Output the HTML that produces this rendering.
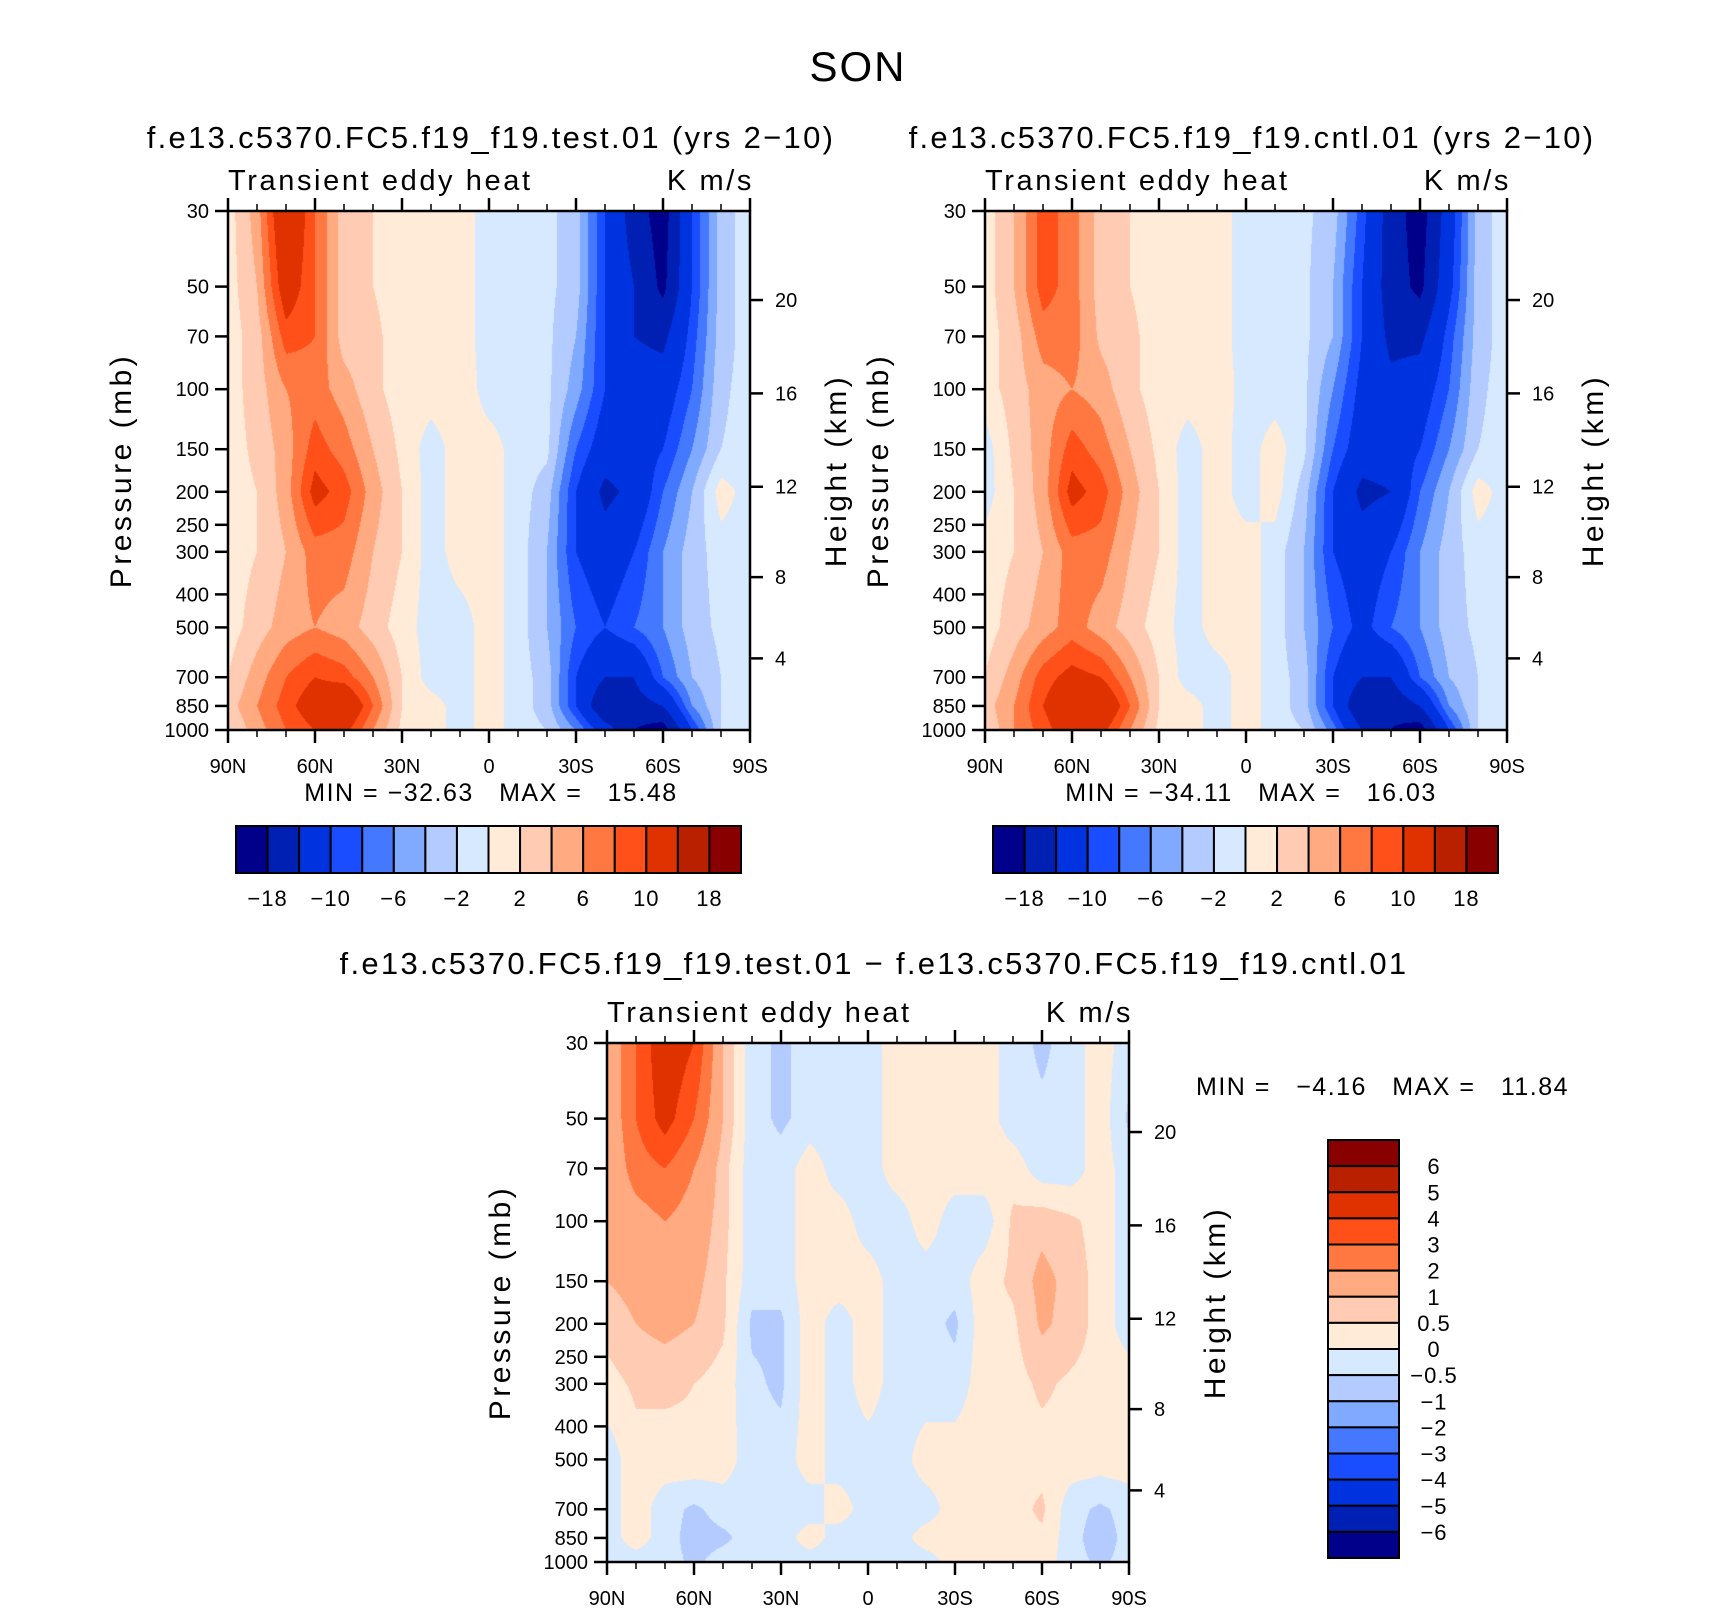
<!DOCTYPE html>
<html><head><meta charset="utf-8">
<style>
html,body{margin:0;padding:0;background:#fff;}
#root{position:relative;width:1710px;height:1611px;overflow:hidden;font-family:"Liberation Sans","DejaVu Sans",sans-serif;}
canvas{position:absolute;}
svg{position:absolute;left:0;top:0;}
text{font-family:"Liberation Sans","DejaVu Sans",sans-serif;fill:#000;white-space:pre;}
</style></head>
<body>
<div id="root">
<canvas id="c1"></canvas>
<canvas id="c2"></canvas>
<canvas id="c3"></canvas>
<svg id="s" width="1710" height="1611"></svg>
</div>
<script>
// ---- data ----
const lats = [90,80,70,60,50,40,30,20,10,0,-10,-20,-30,-40,-50,-60,-70,-80,-90];
const levels = [30,50,70,100,150,200,300,500,700,850,1000];
const testField = [
[1,5,14,8,3,2,1,1,1,-1,-1,-1.5,-3,-10,-16,-20,-10,-3,-1],
[1,4,12,8,3,2,1,1,1,-1,-1,-1.5,-3,-10,-14,-19,-10,-3,-1],
[1,3,9,8,3,2.5,1,1,1,-1,-1,-1.5,-4,-10,-14,-15,-9,-3,-1],
[1,3,6,7,5,2.5,1,1,1.5,-1,-1,-1.5,-5,-10,-12,-12,-8,-2.5,-1],
[1,2.5,5,9,7,4,1.5,-1,1,1,-1,-1.5,-8,-12,-12,-10,-6,-2,-1],
[1,2,5,11,9,5,2,-1,1,1,-1,-3,-10,-15,-13,-8,-4,1,-1],
[1,2,4,7,7,4,2,-1,1,1,-1,-4,-10,-12,-10,-6,-3,-1,-1],
[1,3,5,6,5,3,1,-1,-1,1,-1,-4,-8,-10,-8,-6,-3,-1.5,-1],
[2,5,8,10,9,6,2,-1,-1,1,-1,-3,-10,-14,-14,-8,-4,-2,-1],
[3,6,9,12,14,8,2,1,-1,1,-1,-3,-10,-18,-16,-14,-6,-2,-1],
[2,5,8,10,11,6,1.5,1,-1,1,-1,-2,-6,-12,-18,-20,-10,-2,-1]];
const cntlField = [
[1,4,9,7,3,2,1,1,1,-1,-1,-1.5,-3,-9,-16,-20,-12,-3,-1],
[1,4,9,7,3,2,1,1,1,-1,-1,-1.5,-4,-10,-16,-19,-11,-3,-1],
[1,3,7,7,3.5,2.5,1,1,1,-1,-1,-1.5,-4,-10,-15,-15,-9,-3,-1],
[1,3,5,6,5,2.5,1,1,1.5,-1,-1,-1.5,-6,-11,-13,-12,-8,-2.5,-1],
[-1,2.5,5,9,7,4,1.5,-1,1,-1,1,-1.5,-8,-12,-12,-10,-6,-2,-1],
[-1,2,5,11,9,5,2,-1,1,-1,1,-3,-10,-15,-14,-8,-4,1,-1],
[1,2,4,7,7,4,2,-1,1,1,-1,-4,-10,-12,-10,-6,-3,-1,-1],
[1,3,5,7,5,3,1,-1,1,1,-1,-4,-8,-11,-8,-6,-3,-1.5,-1],
[2,5,9,11,10,6,2,-1,-1,1,-1,-3,-10,-14,-14,-8,-4,-2,-1],
[3,6,10,13,14,8,2,1,-1,1,-1,-3,-10,-18,-17,-14,-6,-2,-1],
[2,6,9,12,11,6,1.5,1,-1,1,-1,-2,-7,-14,-18,-20,-10,-2,-1]];
const diffField = [
[1,3,5,4,1,-0.3,-0.6,-0.3,-0.3,-0.3,0.3,0.3,0.3,0.3,-0.3,-0.6,-0.3,0.3,-0.3],
[1,3,4.5,3,1,-0.3,-0.6,-0.3,-0.3,-0.3,0.3,0.3,0.3,0.3,-0.3,-0.4,-0.3,0.3,-0.6],
[1,2.5,3,2,0.7,-0.3,-0.3,0.3,-0.3,-0.3,0.3,0.3,0.3,0.3,0.3,-0.3,-0.3,0.3,-0.3],
[1,1.5,2,1.5,0.7,-0.3,-0.3,0.3,0.3,-0.3,-0.3,0.3,-0.3,-0.3,0.6,0.8,0.6,0.3,-0.3],
[1,1.2,1.5,1.2,0.6,-0.3,-0.3,0.3,0.3,0.3,-0.3,-0.3,-0.3,0.3,0.6,1.2,0.8,0.3,-0.3],
[0.7,1,1.2,1,0.6,-0.6,-0.6,0.3,-0.3,0.3,-0.3,-0.3,-0.6,0.3,0.4,1.1,0.8,0.3,-0.3],
[0.3,0.6,0.6,0.5,0.3,-0.4,-0.6,0.3,-0.3,0.3,-0.3,-0.3,-0.3,0.3,0.3,0.6,0.4,0.3,0.3],
[-0.3,0.3,0.3,0.4,0.3,-0.3,-0.3,0.3,-0.3,-0.3,-0.3,0.3,0.3,0.3,0.3,0.3,0.3,0.3,0.3],
[-0.3,0.3,-0.3,-0.6,-0.3,-0.3,-0.3,-0.3,0.3,-0.3,-0.3,-0.3,0.3,0.3,0.3,0.6,-0.3,-0.6,-0.3],
[-0.3,0.3,-0.3,-0.7,-0.6,-0.3,-0.3,0.3,-0.3,-0.3,-0.3,0.3,0.3,0.3,0.3,0.4,-0.3,-0.8,-0.3],
[-0.3,-0.3,-0.3,-0.6,-0.3,-0.3,-0.3,-0.3,-0.3,-0.3,-0.3,-0.3,0.3,0.3,0.3,0.3,-0.3,-0.6,-0.3]];
const mainLevels = [-18,-14,-10,-8,-6,-4,-2,0,2,4,6,8,10,14,18];
const diffLevels = [-6,-5,-4,-3,-2,-1,-0.5,0,0.5,1,2,3,4,5,6];
const palette = ["#00008a","#0020b4","#0033e0","#1a4dff","#4478ff","#80aaff","#b3cbff","#d6e9ff","#ffebd8","#ffcbb2","#ffaa80","#ff7842","#ff5019","#e03200","#b82000","#880000"];
const pTicks = [30,50,70,100,150,200,250,300,400,500,700,850,1000];
const zTicks = [4,8,12,16,20];
const latTickLabels = ["90N","60N","30N","0","30S","60S","90S"];
const mainCbLabels = ["\u221218","\u221210","\u22126","\u22122","2","6","10","18"];
const diffCbLabels = ["6","5","4","3","2","1","0.5","0","\u22120.5","\u22121","\u22122","\u22123","\u22124","\u22125","\u22126"];

// ---- helpers ----
const NS="http://www.w3.org/2000/svg";
const svg=document.getElementById('s');
function el(tag,attrs,parent){const e=document.createElementNS(NS,tag);for(const k in attrs)e.setAttribute(k,attrs[k]);(parent||svg).appendChild(e);return e;}
function txt(x,y,s,size,anchor,name,extra){const t=el('text',Object.assign({x:x,y:y,'font-size':size,'text-anchor':anchor||'start'},extra||{}));t.textContent=s;return t;}
const LP0=Math.log(30),LP1=Math.log(1000);
function pFrac(p){return (Math.log(p)-LP0)/(LP1-LP0);}
function zToP(z){const m=z*1000;return m<=11000?1013.25*Math.pow(1-2.25577e-5*m,5.25588):226.32*Math.exp(-(m-11000)/6341.6);}
function colorIndex(v,lv){let i=0;while(i<lv.length&&v>=lv[i])i++;return i;}
function hex(c){return [parseInt(c.substr(1,2),16),parseInt(c.substr(3,2),16),parseInt(c.substr(5,2),16)];}
const palRGB=palette.map(hex);
const rowF=levels.map(pFrac);

function sample(field,latv,pf){
  let fx=(90-latv)/10; let i=Math.min(Math.floor(fx),lats.length-2); let tx=fx-i;
  let j=0; while(j<rowF.length-2&&pf>rowF[j+1])j++;
  let ty=(pf-rowF[j])/(rowF[j+1]-rowF[j]); ty=Math.max(0,Math.min(1,ty));
  const a=field[j][i],b=field[j][i+1],c=field[j+1][i],d=field[j+1][i+1];
  return (a*(1-tx)+b*tx)*(1-ty)+(c*(1-tx)+d*tx)*ty;
}

function panel(id,P,field,lv,name){
  const cv=document.getElementById(id);
  const W=P.r-P.l,H=P.b-P.t;
  cv.width=W;cv.height=H;cv.style.left=P.l+'px';cv.style.top=P.t+'px';
  const ctx=cv.getContext('2d');const img=ctx.createImageData(W,H);
  for(let y=0;y<H;y++){const pf=(y+0.5)/H;
    for(let x=0;x<W;x++){const la=90-180*(x+0.5)/W;
      const c=palRGB[colorIndex(sample(field,la,pf),lv)];const k=(y*W+x)*4;
      img.data[k]=c[0];img.data[k+1]=c[1];img.data[k+2]=c[2];img.data[k+3]=255;}}
  ctx.putImageData(img,0,0);
  const g=el('g',{});
  el('rect',{x:P.l,y:P.t,width:W,height:H,fill:'none',stroke:'#000','stroke-width':2.5},g);
  const xs=la=>P.l+(90-la)/180*W;
  for(let la=90;la>=-90;la-=10){const x=xs(la);const maj=la%30===0;const L=maj?13:7;
    el('line',{x1:x,y1:P.t,x2:x,y2:P.t-L,stroke:'#000','stroke-width':maj?2.5:1.5},g);
    el('line',{x1:x,y1:P.b,x2:x,y2:P.b+L,stroke:'#000','stroke-width':maj?2.5:1.5},g);}
  latTickLabels.forEach((s,i)=>txt(xs(90-30*i),P.b+43,s,20,'middle','lat-tick-label'));
  pTicks.forEach(p=>{const y=P.t+pFrac(p)*H;
    el('line',{x1:P.l,y1:y,x2:P.l-13,y2:y,stroke:'#000','stroke-width':2.5},g);
    txt(P.l-19,y+7,String(p),20,'end','pressure-tick-label');});
  zTicks.forEach(z=>{const y=P.t+pFrac(zToP(z))*H;
    el('line',{x1:P.r,y1:y,x2:P.r+13,y2:y,stroke:'#000','stroke-width':2.5},g);
    txt(P.r+25,y+7,String(z),20,'start','height-tick-label');});
  const cy=(P.t+P.b)/2;
  txt(0,0,'Pressure (mb)',30,'middle','y-axis-title',{transform:`translate(${P.l-97},${cy}) rotate(-90)`,'letter-spacing':'3.5'});
  txt(0,0,'Height (km)',30,'middle','y2-axis-title',{transform:`translate(${P.r+96},${cy}) rotate(-90)`,'letter-spacing':'3.5'});
  txt(P.l,P.t-21,'Transient eddy heat',29,'start','panel-left-string',{'letter-spacing':'2.6'});
  txt(P.r+4,P.t-21,'K m/s',29,'end','panel-units',{'letter-spacing':'2.6'});
}
function hbar(x0,x1,y0,y1,labels){
  const n=palette.length,w=(x1-x0)/n;
  palette.forEach((c,i)=>{const r=el('rect',{x:x0+i*w,y:y0,width:w,height:y1-y0,fill:c,stroke:'#000','stroke-width':2});
    });
  labels.forEach((s,i)=>txt(x0+w*(1+2*i),y1+33,s,22,'middle','colorbar-label',{'letter-spacing':'1'}));
}
const P1={l:228,r:750,t:211,b:730},P2={l:985,r:1507,t:211,b:730},P3={l:607,r:1129,t:1043,b:1562};
panel('c1',P1,testField,mainLevels,'test');
panel('c2',P2,cntlField,mainLevels,'cntl');
panel('c3',P3,diffField,diffLevels,'diff');
txt(858,81,'SON',42,'middle','figure-title',{'letter-spacing':'2'});
txt(491,148,'f.e13.c5370.FC5.f19_f19.test.01 (yrs 2\u221210)',31,'middle','test-title',{'letter-spacing':'2.3'});
txt(1252,148,'f.e13.c5370.FC5.f19_f19.cntl.01 (yrs 2\u221210)',31,'middle','cntl-title',{'letter-spacing':'2.3'});
txt(874,974,'f.e13.c5370.FC5.f19_f19.test.01 \u2212 f.e13.c5370.FC5.f19_f19.cntl.01',31,'middle','diff-title',{'letter-spacing':'2.3'});
txt(491,801,'MIN = \u221232.63   MAX =   15.48',25,'middle','test-minmax',{'letter-spacing':'1.5'});
txt(1251,801,'MIN = \u221234.11   MAX =   16.03',25,'middle','cntl-minmax',{'letter-spacing':'1.5'});
txt(1196,1095,'MIN =   \u22124.16   MAX =   11.84',25,'start','diff-minmax',{'letter-spacing':'1.5'});
hbar(236,741,826,873,mainCbLabels);
hbar(993,1498,826,873,mainCbLabels);
// vertical colorbar
(function(){const x0=1328,x1=1399,y0=1140,y1=1558,n=palette.length,h=(y1-y0)/n;
  for(let i=0;i<n;i++){const r=el('rect',{x:x0,y:y0+i*h,width:x1-x0,height:h,fill:palette[n-1-i],stroke:'#000','stroke-width':2});
    }
  diffCbLabels.forEach((s,i)=>txt(1434,y0+h*(i+1)+8,s,22,'middle','colorbar-label',{'letter-spacing':'1'}));
})();
</script>
</body></html>
